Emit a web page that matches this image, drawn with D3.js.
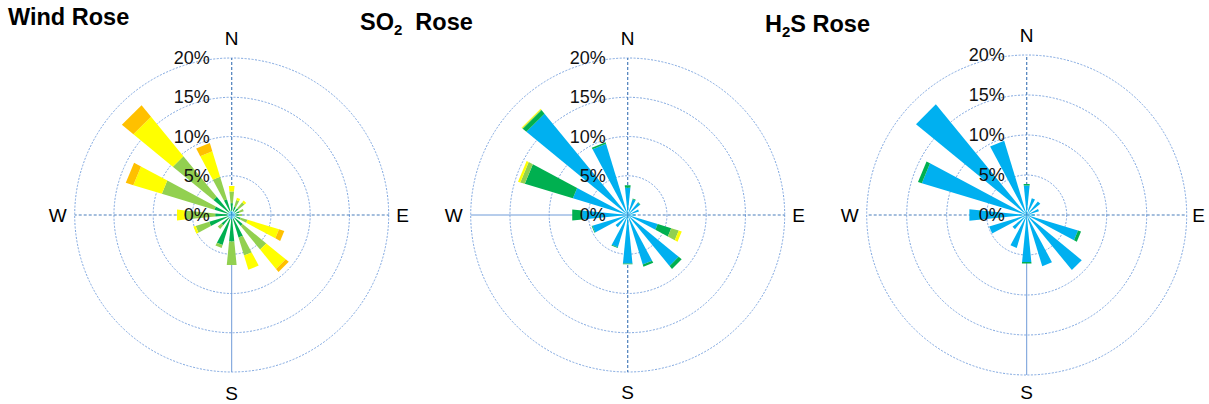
<!DOCTYPE html>
<html>
<head>
<meta charset="utf-8">
<script src="https://cdn.jsdelivr.net/npm/d3@7"></script>
<style>
  body { margin: 0; background: #fff; }
  text { font-family: "Liberation Sans", Arial, sans-serif; }
</style>
</head>
<body>
<svg width="1209" height="404"></svg>
<script>
var svg = d3.select("svg");

// 16 compass sectors, clockwise from north
var directions = ["N", "NNE", "NE", "ENE", "E", "ESE", "SE", "SSE",
                  "S", "SSW", "SW", "WSW", "W", "WNW", "NW", "NNW"];

var ringTicks = [0, 5, 10, 15, 20];
var compass = ["N", "E", "S", "W"];
var binColors = ["#00b0f0", "#00b050", "#92d050", "#ffff00", "#ffc000"];

// % frequency per sector, split in bins (cyan, dark green, light green, yellow, orange)
var windRose = [
  [0.5, 1.0, 1.5, 0.7, 0],
  [0.5, 0.6, 0.9, 0.3, 0],
  [0.5, 0.6, 1.0, 0.3, 0],
  [0.5, 0.5, 0.6, 0, 0],
  [0.5, 0.4, 0.4, 0, 0],
  [0.5, 0.7, 0.9, 4.2, 0.7],
  [0.5, 1.3, 3.9, 3.2, 0.5],
  [0.5, 2.5, 2.4, 1.9, 0],
  [0.5, 2.9, 3.0, 0, 0],
  [0.5, 3.5, 0.4, 0, 0],
  [0.5, 1.2, 0.6, 0, 0],
  [0.5, 2.5, 1.8, 0.3, 0],
  [0.5, 1.6, 3.9, 1.0, 0],
  [0.5, 1.8, 7.0, 3.8, 1.0],
  [0.5, 2.5, 6.7, 6.5, 1.9],
  [0.5, 1.6, 3.0, 3.4, 1.1]
];

var so2Rose = [
  [3.5, 0.3, 0, 0],
  [2.1, 0.1, 0, 0],
  [2.0, 0.1, 0, 0],
  [1.5, 0, 0, 0],
  [1.0, 0, 0, 0],
  [4.0, 1.8, 1.0, 0.4],
  [8.4, 0.5, 0, 0],
  [6.6, 0.3, 0, 0],
  [6.2, 0.1, 0, 0],
  [4.3, 0.1, 0, 0],
  [2.0, 0, 0, 0],
  [4.7, 0.1, 0, 0],
  [5.8, 1.3, 0, 0],
  [7.3, 6.4, 0.6, 0.3],
  [16.7, 0.6, 0.1, 0.1],
  [9.5, 0.2, 0, 0]
];

var h2sRose = [
  [3.7, 0.2],
  [2.2, 0],
  [2.2, 0],
  [1.6, 0],
  [1.0, 0],
  [6.7, 0.4],
  [8.9, 0],
  [6.7, 0],
  [5.9, 0.2],
  [4.3, 0],
  [2.3, 0],
  [4.9, 0],
  [7.2, 0],
  [13.7, 0.5],
  [17.9, 0],
  [9.7, 0]
];

var roses = [
  { title: ["Wind Rose"], tx: 8, ty: 25, cx: 231.7, cy: 215, R: 157, data: windRose, solid: "S",
    off: { N: [0, -177], E: [171, 0], S: [0, 178], W: [-174, 0] } },
  { title: ["SO", "2", "  Rose"], tx: 360, ty: 29.5, cx: 627.7, cy: 215, R: 157, data: so2Rose, solid: "W",
    off: { N: [0, -177], E: [171, 0], S: [0, 177], W: [-174, 0] } },
  { title: ["H", "2", "S Rose"], tx: 765, ty: 31.5, cx: 1026.7, cy: 215, R: 160, data: h2sRose, solid: "S",
    off: { N: [0, -180], E: [172, 0], S: [0, 177], W: [-177, 0] } }
];

var angle = d3.scaleLinear().domain([0, directions.length]).range([0, 2 * Math.PI]);
var halfWidth = angle(1) / 4;
var wedge = d3.lineRadial().curve(d3.curveLinearClosed);

roses.forEach(drawRose);

function drawRose(rose) {
  var r = d3.scaleLinear().domain([0, 20]).range([0, rose.R]);
  var g = svg.append("g")
      .attr("transform", "translate(" + rose.cx + "," + rose.cy + ")");

  // title
  var t = svg.append("text")
      .attr("x", rose.tx)
      .attr("y", rose.ty)
      .attr("font-size", 23.5)
      .attr("font-weight", "bold")
      .attr("xml:space", "preserve");
  rose.title.forEach(function(part, i) {
    var s = t.append("tspan").text(part);
    if (i === 1) s.attr("font-size", 15).attr("dy", 5);
    if (i === 2) s.attr("dy", -5);
  });

  // rings
  g.selectAll(".ring")
    .data(ringTicks.slice(1))
    .enter().append("circle")
      .attr("r", function(d) { return r(d); })
      .attr("fill", "none")
      .attr("stroke", "#7ea6e0")
      .attr("stroke-width", 1)
      .attr("stroke-dasharray", "2,1.5");

  // cross axes
  var axes = [["N", 0, -1], ["E", 1, 0], ["S", 0, 1], ["W", -1, 0]];
  g.selectAll(".axis")
    .data(axes)
    .enter().append("line")
      .attr("x1", 0).attr("y1", 0)
      .attr("x2", function(d) { return d[1] * r(20); })
      .attr("y2", function(d) { return d[2] * r(20); })
      .attr("stroke", function(d) { return d[0] === rose.solid ? "#6f9bd8" : "#4a7ebb"; })
      .attr("stroke-width", function(d) { return d[0] === rose.solid ? 1 : 1.2; })
      .attr("stroke-dasharray", function(d) { return d[0] === rose.solid ? null : "3,2"; });

  // stacked wedges
  directions.forEach(function(dir, i) {
    var vals = rose.data[i];
    var tops = d3.cumsum(vals);
    var a = angle(i);
    vals.forEach(function(v, k) {
      if (v <= 0) return;
      var r0 = r(tops[k] - v), r1 = r(tops[k]);
      g.append("path")
          .attr("d", wedge([[a - halfWidth, r0], [a - halfWidth, r1], [a + halfWidth, r1], [a + halfWidth, r0]]))
          .attr("fill", binColors[k]);
    });
  });

  // ring labels
  g.selectAll(".lbl")
    .data(ringTicks)
    .enter().append("text")
      .attr("x", -22)
      .attr("y", function(d) { return -r(d); })
      .attr("text-anchor", "end")
      .attr("dominant-baseline", "central")
      .attr("font-size", 18)
      .attr("fill", "#111")
      .text(function(d) { return d + "%"; });

  // compass letters
  g.selectAll(".cmp")
    .data(compass)
    .enter().append("text")
      .attr("x", function(d) { return rose.off[d][0]; })
      .attr("y", function(d) { return rose.off[d][1]; })
      .attr("text-anchor", "middle")
      .attr("dominant-baseline", "central")
      .attr("font-size", 19)
      .text(function(d) { return d; });
}
</script>
</body>
</html>
